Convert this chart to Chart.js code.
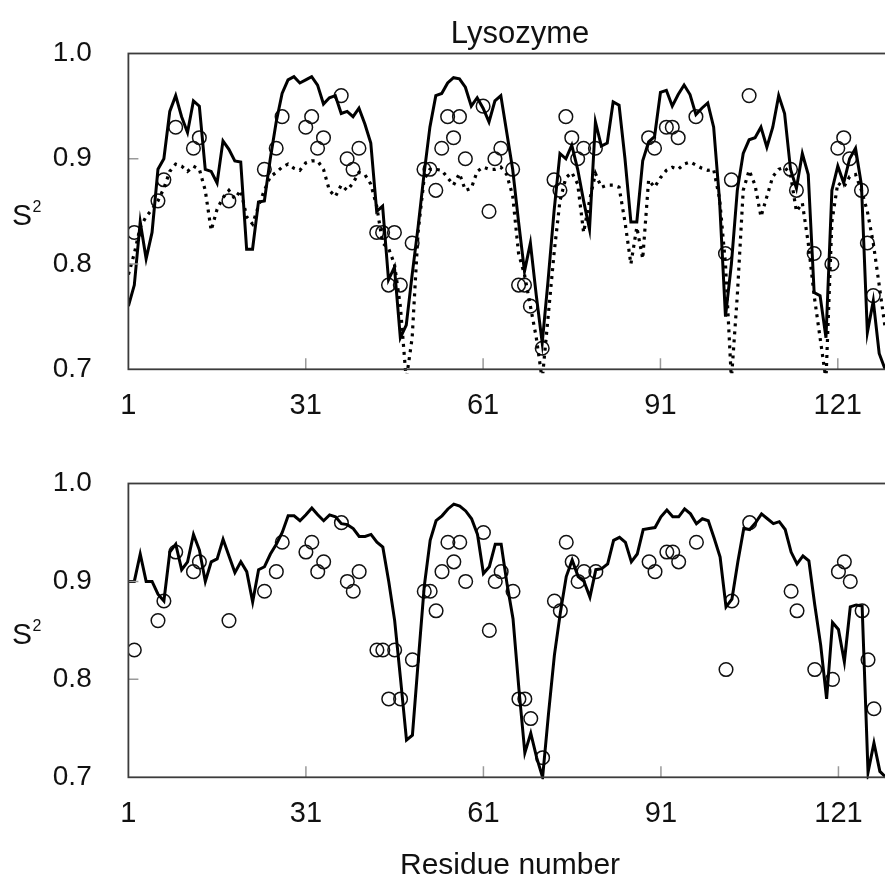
<!DOCTYPE html>
<html>
<head>
<meta charset="utf-8">
<title>Lysozyme S2</title>
<script src="https://cdn.jsdelivr.net/npm/chart.js@4.4.1/dist/chart.umd.min.js"></script>
<style>
  html, body { margin: 0; padding: 0; background: #fff; overflow: hidden; }
  body { width: 885px; height: 879px; position: relative; }
  canvas { position: absolute; left: 0; }
  #chartTop { top: 0; }
  #chartBottom { top: 430px; }
</style>
</head>
<body>
<canvas id="chartTop" width="920" height="430"></canvas>
<canvas id="chartBottom" width="900" height="449"></canvas>
<script>
// residue numbering along the sequence
const residues = Array.from({ length: 129 }, (_, i) => i + 1);
const xTicks = [1, 31, 61, 91, 121];
const yTicks = [0.7, 0.8, 0.9, 1.0];

// model S2 profile (top, solid)
const topSolid = [
  0.76, 0.78, 0.84, 0.805, 0.83, 0.89, 0.90, 0.945, 0.96, 0.94,
  0.925, 0.955, 0.95, 0.89, 0.888, 0.877, 0.917, 0.909, 0.898, 0.897,
  0.814, 0.814, 0.859, 0.86, 0.90, 0.935, 0.962, 0.975, 0.978, 0.972,
  0.975, 0.978, 0.97, 0.952, 0.958, 0.96, 0.943, 0.945, 0.94, 0.948,
  0.933, 0.915, 0.85, 0.855, 0.785, 0.797, 0.73, 0.742, 0.79, 0.835,
  0.885, 0.93, 0.96, 0.962, 0.972, 0.977, 0.976, 0.968, 0.95, 0.958,
  0.948, 0.935, 0.955, 0.96, 0.925, 0.89, 0.84, 0.793, 0.82, 0.77,
  0.725, 0.785, 0.85, 0.905, 0.90, 0.913, 0.89, 0.86, 0.833, 0.935,
  0.912, 0.915, 0.954, 0.951, 0.90, 0.84, 0.84, 0.898, 0.916, 0.921,
  0.963, 0.965, 0.95, 0.961, 0.97, 0.961, 0.942, 0.948, 0.953, 0.93,
  0.86, 0.75, 0.80, 0.87, 0.905, 0.918, 0.92, 0.93, 0.911, 0.93,
  0.96, 0.943, 0.89, 0.872, 0.905, 0.885, 0.773, 0.77, 0.73, 0.87,
  0.893, 0.877, 0.90, 0.91, 0.875, 0.735, 0.765, 0.715, 0.70
];

// second model (top, dotted)
const topDotted = [
  0.79, 0.81, 0.835, 0.845, 0.852, 0.86, 0.872, 0.888, 0.895, 0.893,
  0.888, 0.893, 0.89, 0.87, 0.832, 0.852, 0.863, 0.87, 0.862, 0.87,
  0.845, 0.838, 0.855, 0.87, 0.883, 0.887, 0.892, 0.895, 0.891, 0.889,
  0.896, 0.898, 0.898, 0.89, 0.87, 0.864, 0.875, 0.87, 0.877, 0.887,
  0.885, 0.876, 0.855, 0.82, 0.815, 0.80, 0.76, 0.69, 0.73, 0.83,
  0.88, 0.89, 0.89, 0.889, 0.882, 0.875, 0.886, 0.87, 0.872, 0.888,
  0.892, 0.89, 0.89, 0.892, 0.885, 0.865, 0.81, 0.79, 0.76, 0.73,
  0.69, 0.75, 0.81, 0.86, 0.882, 0.887, 0.876, 0.83, 0.86, 0.886,
  0.873, 0.875, 0.875, 0.873, 0.84, 0.80, 0.835, 0.805, 0.88, 0.873,
  0.882, 0.889, 0.892, 0.89, 0.895, 0.897, 0.894, 0.891, 0.889, 0.89,
  0.862, 0.80, 0.69, 0.77, 0.87, 0.889, 0.875, 0.845, 0.864, 0.883,
  0.89, 0.892, 0.885, 0.85, 0.858, 0.82, 0.77, 0.73, 0.69, 0.84,
  0.877, 0.873, 0.883, 0.885, 0.87, 0.85, 0.82, 0.78, 0.74
];

// model S2 profile (bottom, solid)
const bottomSolid = [
  0.90, 0.90, 0.928, 0.90, 0.90, 0.887, 0.88, 0.93, 0.938, 0.912,
  0.92, 0.948, 0.932, 0.90, 0.92, 0.923, 0.943, 0.926, 0.909, 0.92,
  0.91, 0.879, 0.912, 0.915, 0.928, 0.938, 0.95, 0.967, 0.967, 0.962,
  0.968, 0.975, 0.968, 0.962, 0.968, 0.966, 0.959, 0.958, 0.954, 0.946,
  0.946, 0.948, 0.94, 0.935, 0.90, 0.86, 0.80, 0.738, 0.743, 0.82,
  0.895, 0.942, 0.962, 0.967, 0.974, 0.979, 0.977, 0.972, 0.964, 0.948,
  0.908, 0.915, 0.938, 0.938, 0.897, 0.862, 0.79, 0.725, 0.745, 0.72,
  0.70, 0.765, 0.825, 0.868, 0.905, 0.922, 0.905, 0.90, 0.884, 0.912,
  0.913, 0.918, 0.942, 0.945, 0.94, 0.92, 0.928, 0.953, 0.954, 0.955,
  0.966, 0.973, 0.966, 0.966, 0.974, 0.969, 0.959, 0.964, 0.962, 0.944,
  0.925, 0.874, 0.882, 0.92, 0.954, 0.953, 0.96, 0.969, 0.964, 0.959,
  0.961, 0.953, 0.93, 0.918, 0.926, 0.921, 0.876, 0.835, 0.78, 0.858,
  0.851, 0.818, 0.874, 0.876, 0.875, 0.705, 0.735, 0.706, 0.70
];

// experimental order parameters (circles, both panels)
const expResidue = [
  2, 6, 7, 9, 12, 13, 18, 24, 26, 27,
  31, 32, 33, 34, 37, 38, 39, 40, 43, 44,
  45, 46, 47, 49, 51, 52, 53, 54, 55, 56,
  57, 58, 61, 62, 63, 64, 66, 67, 68, 69,
  71, 73, 74, 75, 76, 77, 78, 80, 89, 90,
  92, 93, 94, 97, 102, 103, 106, 113, 114, 117,
  120, 121, 122, 123, 125, 126, 127
];
const expS2 = [
  0.83, 0.86, 0.88, 0.93, 0.91, 0.92, 0.86, 0.89, 0.91, 0.94,
  0.93, 0.94, 0.91, 0.92, 0.96, 0.90, 0.89, 0.91, 0.83, 0.83,
  0.78, 0.83, 0.78, 0.82, 0.89, 0.89, 0.87, 0.91, 0.94, 0.92,
  0.94, 0.90, 0.95, 0.85, 0.90, 0.91, 0.89, 0.78, 0.78, 0.76,
  0.72, 0.88, 0.87, 0.94, 0.92, 0.90, 0.91, 0.91, 0.92, 0.91,
  0.93, 0.93, 0.92, 0.94, 0.81, 0.88, 0.96, 0.89, 0.87, 0.81,
  0.80, 0.91, 0.92, 0.90, 0.87, 0.82, 0.77
];

const FONT = "'Liberation Sans', Arial, sans-serif";

const toPoints = (xs, ys) => xs.map((x, i) => ({ x: x, y: ys[i] }));

// box on three sides plus short inward tick marks
const frame = {
  id: "frame",
  afterDatasetsDraw(chart) {
    const { ctx, chartArea: a, scales } = chart;
    ctx.save();
    ctx.strokeStyle = "#9a9a9a";
    ctx.lineWidth = 1.5;
    ctx.beginPath();
    yTicks.slice(1, -1).forEach((v) => {
      const y = scales.y.getPixelForValue(v);
      ctx.moveTo(a.left, y);
      ctx.lineTo(a.left + 10, y);
    });
    xTicks.slice(1).forEach((v) => {
      const x = scales.x.getPixelForValue(v);
      ctx.moveTo(x, a.bottom);
      ctx.lineTo(x, a.bottom - 11);
    });
    ctx.stroke();
    ctx.strokeStyle = "#3c3c3c";
    ctx.lineWidth = 1.8;
    ctx.strokeRect(a.left, a.top, a.right - a.left, a.bottom - a.top);
    ctx.restore();
  },
};

// horizontal "S²" axis label
const s2Label = {
  id: "s2Label",
  afterDraw(chart) {
    const { ctx, chartArea: a } = chart;
    const mid = (a.top + a.bottom) / 2;
    ctx.save();
    ctx.fillStyle = "#111";
    ctx.textBaseline = "alphabetic";
    ctx.textAlign = "left";
    ctx.font = "30px " + FONT;
    ctx.fillText("S", 12, mid + 13.5);
    const w = ctx.measureText("S").width;
    ctx.font = "16px " + FONT;
    ctx.fillText("2", 12 + w + 0.5, mid + 0.5);
    ctx.restore();
  },
};

function makeScales(xMax, xHeight, xTitle) {
  return {
    x: {
      type: "linear",
      min: 1,
      max: xMax,
      afterBuildTicks: (s) => { s.ticks = xTicks.map((v) => ({ value: v })); },
      afterFit: (s) => { s.height = xHeight; },
      grid: { display: false, drawTicks: false },
      border: { display: false },
      ticks: {
        padding: 19,
        color: "#111",
        font: { family: FONT, size: 29 },
        maxRotation: 0,
        callback: (v) => String(v),
      },
      title: xTitle
        ? {
            display: true,
            text: xTitle,
            color: "#111",
            font: { family: FONT, size: 30, lineHeight: 0.9 },
            padding: { top: 0, bottom: 0 },
          }
        : { display: false },
    },
    y: {
      min: 0.7,
      max: 1.0,
      afterBuildTicks: (s) => { s.ticks = yTicks.map((v) => ({ value: v })); },
      afterFit: (s) => { s.width = 128.4; },
      grid: { display: false, drawTicks: false },
      border: { display: false },
      ticks: {
        padding: 36.7,
        color: "#111",
        font: { family: FONT, size: 28 },
        callback: (v) => Number(v).toFixed(1),
      },
    },
  };
}

const solidStyle = {
  type: "line",
  borderColor: "#000",
  borderWidth: 3,
  pointRadius: 0,
  tension: 0,
  fill: false,
  clip: { left: 0, top: 0, right: 0, bottom: 2 },
};

const circleStyle = {
  type: "scatter",
  pointStyle: "circle",
  pointRadius: 6.8,
  pointBorderWidth: 1.5,
  pointBorderColor: "#111",
  pointBackgroundColor: "rgba(0,0,0,0)",
  showLine: false,
};

new Chart(document.getElementById("chartTop"), {
  data: {
    datasets: [
      { ...solidStyle, label: "model", data: toPoints(residues, topSolid) },
      {
        ...solidStyle,
        label: "model 2",
        data: toPoints(residues, topDotted),
        borderWidth: 3.2,
        borderDash: [3, 5],
        borderCapStyle: "butt",
        clip: { left: 0, top: 0, right: 0, bottom: 4 },
      },
      { ...circleStyle, label: "experiment", data: toPoints(expResidue, expS2) },
    ],
  },
  options: {
    responsive: false,
    devicePixelRatio: 1,
    animation: false,
    layout: { padding: { left: 0, right: 4, top: 0, bottom: 0 } },
    scales: makeScales(133.5, 60.7, null),
    plugins: {
      legend: { display: false },
      tooltip: { enabled: false },
      title: {
        display: true,
        text: "Lysozyme",
        fullSize: false,
        color: "#111",
        font: { family: FONT, size: 31, weight: "normal" },
        padding: { top: 10.5, bottom: 0 },
      },
    },
  },
  plugins: [frame, s2Label],
});

new Chart(document.getElementById("chartBottom"), {
  data: {
    datasets: [
      { ...solidStyle, label: "model", data: toPoints(residues, bottomSolid) },
      { ...circleStyle, label: "experiment", data: toPoints(expResidue, expS2) },
    ],
  },
  options: {
    responsive: false,
    devicePixelRatio: 1,
    animation: false,
    layout: { padding: { left: 0, right: 4.8, top: 41.7, bottom: 0 } },
    scales: makeScales(130, 101.7, "Residue number"),
    plugins: {
      legend: { display: false },
      tooltip: { enabled: false },
      title: { display: false },
    },
  },
  plugins: [frame, s2Label],
});
</script>
</body>
</html>
